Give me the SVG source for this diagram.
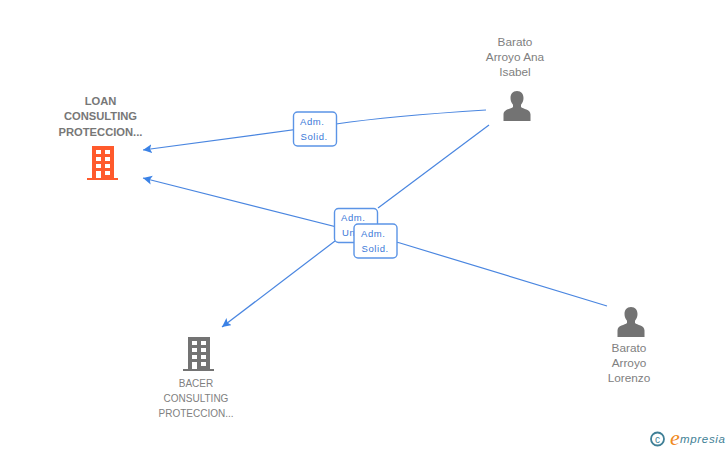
<svg xmlns="http://www.w3.org/2000/svg" width="728" height="450" viewBox="0 0 728 450">
<style>
text{font-family:"Liberation Sans",Arial,sans-serif}
.n{font-size:11.8px;fill:#808080;text-anchor:middle}
.c{font-size:10px}
.b{font-weight:bold;font-size:11.200px;fill:#777}
.e{fill:none;stroke:#4a86e0;stroke-width:1.2}
.box{fill:#fff;stroke:#5b94e6;stroke-width:1.4}
.l{font-size:9.500px;fill:#3b78d8;letter-spacing:.6px}
</style>
<defs>
<marker id="a" markerUnits="userSpaceOnUse" markerWidth="10" markerHeight="10" refX="9" refY="4.500" orient="auto"><path d="M9 4.500L0 0L2 4.500L0 9Z" fill="#3b82e6"/></marker>
<g id="person"><path d="M0 -16c-4.300 0-6.500 3.200-6.500 7c0 2.800 1 5 2.500 6.800v2.200c-2 2.200-9.500 2-9.500 7.500v6.500h27v-6.500c0-5.500-7.500-5.300-9.500-7.500v-2.200c1.500-1.800 2.500-4 2.500-6.800c0-3.800-2.200-7-6.500-7z" fill="#737373"/></g>
<g id="bld"><path fill-rule="evenodd" d="M-11-17H11V15H15V17H-16V15H-11ZM-7-13V-9H-2V-13ZM2-13V-9H7V-13ZM-7-6V-2H-2V-6ZM2-6V-2H7V-6ZM-7 1V5H-2V1ZM2 1V5H7V1ZM-7 8V15H-2V8ZM2 8V12H7V8Z"/></g>
</defs>
<g id="connectors">
<path class="e" d="M486 110Q390 116 336 124L143 150" marker-end="url(#a)"/>
<path class="e" d="M607 306L400 243L143 178" marker-end="url(#a)"/>
<path class="e" d="M489 125L378 208"/>
<path class="e" d="M335 241L222 327" marker-end="url(#a)"/>
</g>
<g id="node-loan">
<text class="n b" x="100.500" y="105">LOAN</text><text class="n b" x="100.500" y="120">CONSULTING</text><text class="n b" x="100.500" y="136">PROTECCION...</text>
<use href="#bld" x="103" y="163" fill="#ff5a2c"/>
</g>
<g id="node-ana">
<text class="n" x="515" y="46">Barato</text><text class="n" x="515" y="61">Arroyo Ana</text><text class="n" x="515" y="76">Isabel</text>
<use href="#person" x="517" y="107"/>
</g>
<g id="node-lorenzo">
<text class="n" x="629" y="352">Barato</text><text class="n" x="629" y="367">Arroyo</text><text class="n" x="629" y="382">Lorenzo</text>
<use href="#person" x="631" y="323"/>
</g>
<g id="node-bacer">
<text class="n c" x="196" y="387">BACER</text><text class="n c" x="196" y="402">CONSULTING</text><text class="n c" x="196" y="417">PROTECCION...</text>
<use href="#bld" x="199" y="354" fill="#737373"/>
</g>
<g id="label-1"><rect class="box" x="293.500" y="112" width="43" height="34" rx="4"/><text class="l" x="300" y="125">Adm.</text><text class="l" x="300.500" y="140">Solid.</text></g>
<g id="label-2"><rect class="box" x="334.500" y="208.500" width="43" height="34" rx="4"/><text class="l" x="341" y="221">Adm.</text><text class="l" x="342" y="236">Uni.</text></g>
<g id="label-3"><rect class="box" x="354" y="224" width="43" height="34" rx="4"/><text class="l" x="361" y="237">Adm.</text><text class="l" x="361.500" y="252">Solid.</text></g>
<g id="logo">
<circle cx="657.500" cy="439" r="6.500" fill="none" stroke="#3f7f96" stroke-width="1.800"/>
<text x="657.500" y="442.500" font-size="10" fill="#3f7f96" text-anchor="middle">c</text>
<text x="670" y="445" font-size="22" font-style="italic" fill="#f08a1d" style="font-family:'Liberation Serif',serif">e</text>
<text x="680" y="443" font-size="11.500" font-style="italic" fill="#3f7f96" textLength="45">mpresia</text>
</g>
</svg>
